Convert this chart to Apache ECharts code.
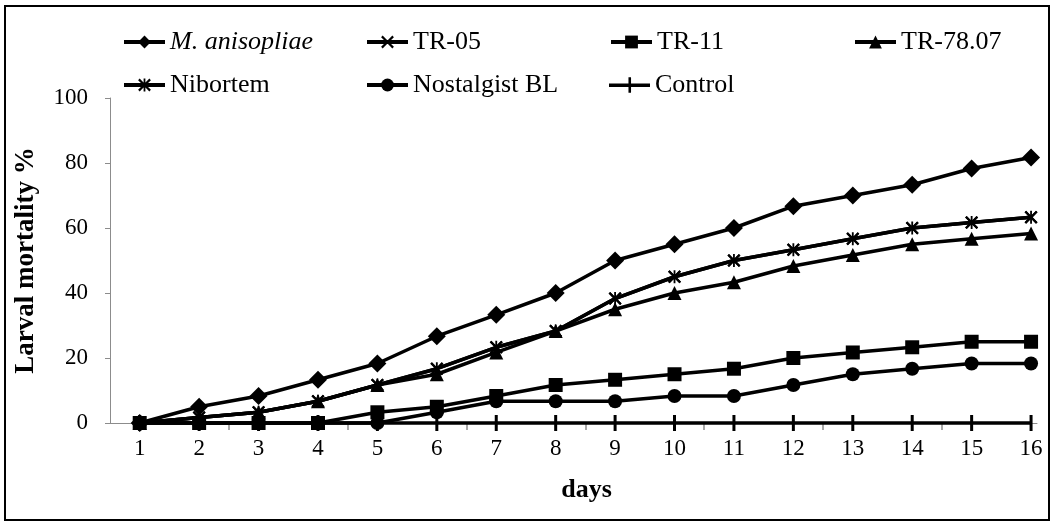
<!DOCTYPE html>
<html>
<head>
<meta charset="utf-8">
<script src="https://cdn.jsdelivr.net/npm/echarts@6/dist/echarts.min.js"></script>
<style>
  html, body { margin: 0; padding: 0; background: #fff; }
  #chart { width: 1053px; height: 522px; }
</style>
</head>
<body>
<div id="chart"></div>
<script>
(function() {
  'use strict';

  var days = [1, 2, 3, 4, 5, 6, 7, 8, 9, 10, 11, 12, 13, 14, 15, 16];
  var grayTicks = [2.5, 4.5, 6.5, 8.5, 10.5, 12.5, 14.5];
  var yTicks = [0, 20, 40, 60, 80, 100];

  var mAnisopliae = [0, 5, 8.3, 13.3, 18.3, 26.7, 33.3, 40, 50, 55, 60, 66.7, 70, 73.3, 78.3, 81.7];
  var tr05 = [0, 1.7, 3.3, 6.7, 11.7, 16.7, 23.3, 28.3, 38.3, 45, 50, 53.3, 56.7, 60, 61.7, 63.3];
  var tr11 = [0, 0, 0, 0, 3.3, 5, 8.3, 11.7, 13.3, 15, 16.7, 20, 21.7, 23.3, 25, 25];
  var tr7807 = [0, 1.7, 3.3, 6.7, 11.7, 15, 21.7, 28.3, 35, 40, 43.3, 48.3, 51.7, 55, 56.7, 58.3];
  var nibortem = [0, 1.7, 3.3, 6.7, 11.7, 16.7, 23.3, 28.3, 38.3, 45, 50, 53.3, 56.7, 60, 61.7, 63.3];
  var nostalgist = [0, 0, 0, 0, 0, 3.3, 6.7, 6.7, 6.7, 8.3, 8.3, 11.7, 15, 16.7, 18.3, 18.3];
  var control = [0, 0, 0, 0, 0, 0, 0, 0, 0, 0, 0, 0, 0, 0, 0, 0];

  var black = '#000';
  var axisGray = '#8c8c8c';
  var font = "'Liberation Serif', 'Times New Roman', serif";

  var crossPath = 'path://M0,1.2 L1.2,0 L5,3.8 L8.8,0 L10,1.2 L6.2,5 L10,8.8 L8.8,10 L5,6.2 L1.2,10 L0,8.8 L3.8,5 Z';
  var starPath = crossPath + ' M4.3,0 L5.7,0 L5.7,10 L4.3,10 Z';
  var controlIcon = 'path://M0,6 L40,6 L40,9.5 L0,9.5 Z M19,0 L21.5,0 L21.5,15 L19,15 Z';

  function pairs(vals) {
    return days.map(function(d, i) { return [d, vals[i]]; });
  }

  function lineSeries(name, vals, symbol, size) {
    return {
      name: name,
      type: 'line',
      data: pairs(vals),
      symbol: symbol,
      symbolSize: size,
      showAllSymbol: true,
      clip: false,
      lineStyle: { color: black, width: 3.5 },
      itemStyle: { color: black, borderWidth: 0 },
      emphasis: { disabled: true },
      animation: false
    };
  }

  // vertical dash marker of the Control series, placed through the axes
  function renderDash(params, api) {
    var p = api.coord([api.value(0), api.value(1)]);
    return {
      type: 'line',
      shape: { x1: p[0], y1: p[1] - 8, x2: p[0], y2: p[1] + 8 },
      style: { stroke: black, lineWidth: 3 }
    };
  }

  var names = ['M. anisopliae', 'TR-05', 'TR-11', 'TR-78.07', 'Nibortem', 'Nostalgist BL', 'Control'];
  var legendLeft = [122, 365, 609, 853, 122, 365, 609];
  var legendTop = [29, 29, 29, 29, 72, 72, 72];

  var legends = names.map(function(n, i) {
    var item = n === 'Control' ? { name: n, icon: controlIcon } : n;
    return {
      data: [item],
      left: legendLeft[i],
      top: legendTop[i],
      padding: 0,
      itemWidth: 41,
      itemHeight: 16,
      selectedMode: false,
      lineStyle: { width: 4 },
      textStyle: {
        color: black,
        fontFamily: font,
        fontSize: 26,
        fontStyle: i === 0 ? 'italic' : 'normal'
      }
    };
  });

  var chart = echarts.init(document.getElementById('chart'));
  chart.setOption({
    backgroundColor: '#fff',
    animation: false,
    legend: legends,
    graphic: [{
      type: 'rect',
      shape: { x: 5, y: 6, width: 1044, height: 514 },
      style: { fill: 'none', stroke: black, lineWidth: 2 },
      silent: true
    }],
    grid: { left: 110, right: 16, top: 98, bottom: 99 },
    xAxis: {
      type: 'value',
      min: 0.5,
      max: 16.1,
      name: 'days',
      nameLocation: 'middle',
      nameGap: 54,
      nameTextStyle: { color: black, fontFamily: font, fontSize: 26, fontWeight: 'bold', padding: [0, 0, 0, 26] },
      axisLine: { lineStyle: { color: axisGray, width: 1 } },
      axisTick: { show: true, customValues: grayTicks, length: 7, lineStyle: { color: axisGray, width: 1.5 } },
      axisLabel: { customValues: days, color: black, fontFamily: font, fontSize: 23, margin: 14 },
      splitLine: { show: false }
    },
    yAxis: {
      type: 'value',
      min: 0,
      max: 100,
      interval: 20,
      name: 'Larval mortality %',
      nameLocation: 'middle',
      nameGap: 70,
      nameTextStyle: { color: black, fontFamily: font, fontSize: 27, fontWeight: 'bold' },
      axisLine: { show: true, lineStyle: { color: axisGray, width: 1 } },
      axisTick: { show: true, length: 5, lineStyle: { color: axisGray } },
      axisLabel: { color: black, fontFamily: font, fontSize: 23, margin: 22,
        formatter: function(v) { return yTicks.indexOf(v) >= 0 ? String(v) : ''; } },
      splitLine: { show: false }
    },
    series: [
      lineSeries('M. anisopliae', mAnisopliae, 'diamond', 18),
      lineSeries('TR-05', tr05, crossPath, 13),
      lineSeries('TR-11', tr11, 'rect', 14),
      lineSeries('TR-78.07', tr7807, 'triangle', 14),
      lineSeries('Nibortem', nibortem, starPath, 13),
      lineSeries('Nostalgist BL', nostalgist, 'circle', 14),
      lineSeries('Control', control, 'none', 0),
      {
        name: 'Control',
        type: 'custom',
        data: pairs(control),
        encode: { x: 0, y: 1 },
        renderItem: renderDash,
        clip: false,
        z: 20,
        silent: true,
        animation: false
      }
    ]
  });
  window.addEventListener('resize', function() { chart.resize(); });
})();
</script>
</body>
</html>
